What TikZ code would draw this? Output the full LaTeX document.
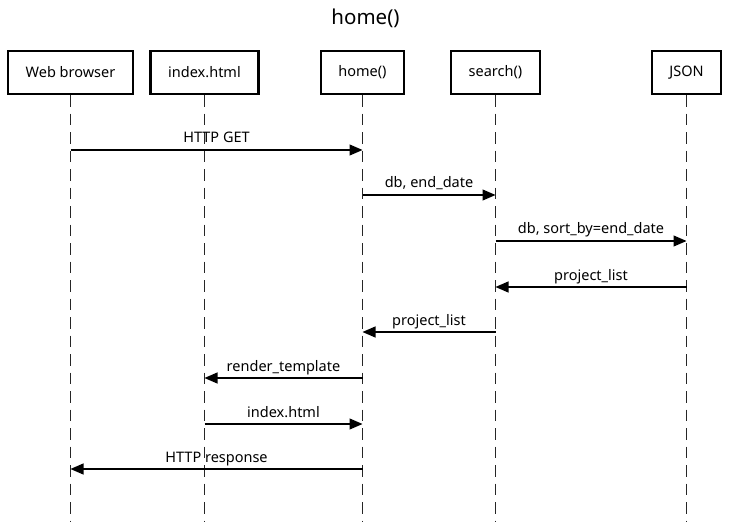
\documentclass[tikz,border=0pt]{standalone}
\usepackage{fontspec}
\setmainfont{Noto Sans}
\usetikzlibrary{arrows.meta}

\begin{document}
\begin{tikzpicture}[x=1pt, y=-1pt,
    actor/.style={rectangle, draw, line width=2.2pt, minimum height=43pt, inner sep=0pt, font=\fontsize{14.5}{17}\selectfont},
    lifeline/.style={draw=black!85, line width=1.6pt, dash pattern=on 11.5pt off 7pt},
    msg/.style={line width=1.1pt, -{Triangle[length=13pt, width=11pt]}},
    msglabel/.style={anchor=base, inner sep=0pt, yshift=7pt, font=\fontsize{14.5}{17}\selectfont}]
    \useasboundingbox (0,0) rectangle (730,526);

    \node[font=\fontsize{20.5}{24}\selectfont, anchor=base, inner sep=0pt] (title) at (365.5, 24.5) {home()};

    \node[actor, minimum width=125pt] (wb) at (70.5, 72.5) {Web browser};
    \node[actor, minimum width=108pt] (idx) at (204.5, 72.5) {index.html};
    \node[actor, minimum width=83pt] (home) at (362.5, 72.5) {home()};
    \node[actor, minimum width=89pt] (search) at (495.5, 72.5) {search()};
    \node[actor, minimum width=69pt] (json) at (686.5, 72.5) {JSON};

    % lifelines
    \coordinate (bottom) at (0, 522);
    \draw[lifeline] (wb.south) -- (wb |- bottom);
    \draw[lifeline] (idx.south) -- (idx |- bottom);
    \draw[lifeline] (home.south) -- (home |- bottom);
    \draw[lifeline] (search.south) -- (search |- bottom);
    \draw[lifeline] (json.south) -- (json |- bottom);

    % message levels
    \coordinate (t1) at (0, 150);
    \coordinate (t2) at (0, 195);
    \coordinate (t3) at (0, 241);
    \coordinate (t4) at (0, 287);
    \coordinate (t5) at (0, 332);
    \coordinate (t6) at (0, 378);
    \coordinate (t7) at (0, 424);
    \coordinate (t8) at (0, 469);

    \draw[msg] (wb |- t1) -- node[msglabel] (l1) {HTTP GET} (home |- t1);
    \draw[msg] (home |- t2) -- node[msglabel] (l2) {db, end\_date} (search |- t2);
    \draw[msg] (search |- t3) -- node[msglabel] (l3) {db, sort\_by=end\_date} (json |- t3);
    \draw[msg] (json |- t4) -- node[msglabel] (l4) {project\_list} (search |- t4);
    \draw[msg] (search |- t5) -- node[msglabel] (l5) {project\_list} (home |- t5);
    \draw[msg] (home |- t6) -- node[msglabel] (l6) {render\_template} (idx |- t6);
    \draw[msg] (idx |- t7) -- node[msglabel] (l7) {index.html} (home |- t7);
    \draw[msg] (home |- t8) -- node[msglabel] (l8) {HTTP response} (wb |- t8);
\end{tikzpicture}
\end{document}
